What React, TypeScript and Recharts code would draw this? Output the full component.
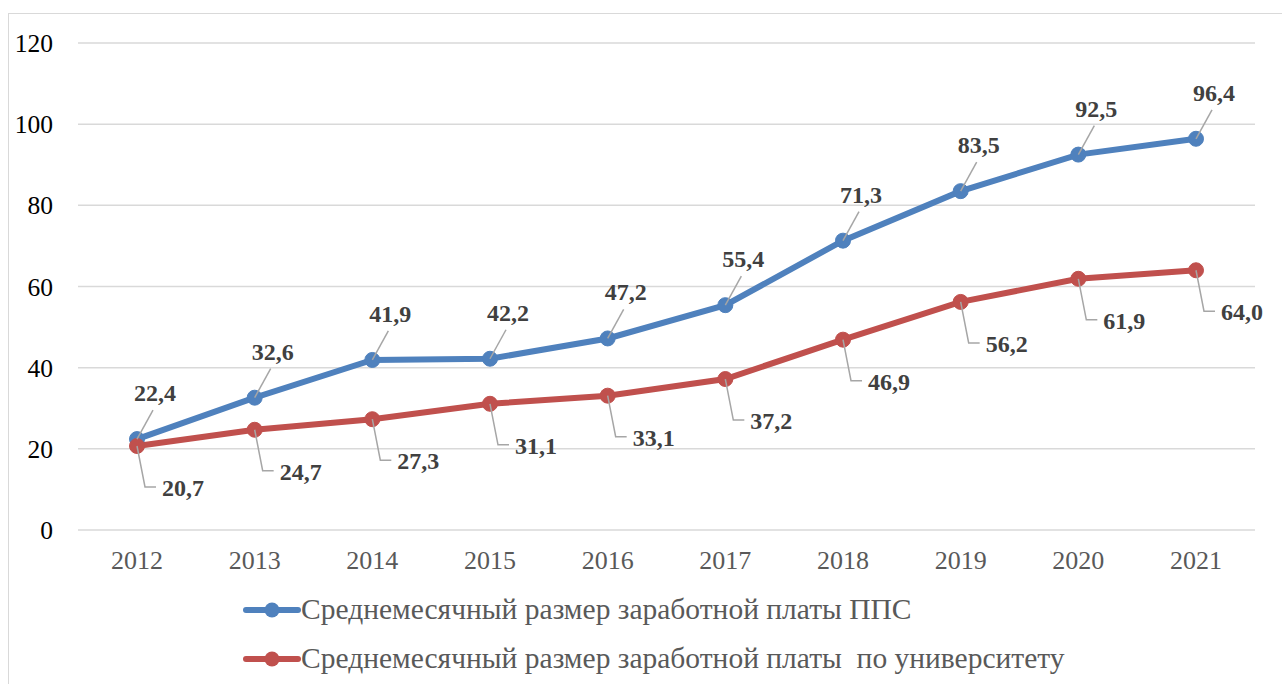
import { LineChart, Line, XAxis, YAxis, CartesianGrid, Legend, LabelList } from 'recharts';

const years = ['2012', '2013', '2014', '2015', '2016', '2017', '2018', '2019', '2020', '2021'];
const ppsSalary = [22.4, 32.6, 41.9, 42.2, 47.2, 55.4, 71.3, 83.5, 92.5, 96.4];
const univSalary = [20.7, 24.7, 27.3, 31.1, 33.1, 37.2, 46.9, 56.2, 61.9, 64.0];
const yTicks = [0, 20, 40, 60, 80, 100, 120];

const ppsName = 'Среднемесячный размер заработной платы ППС';
const univName = 'Среднемесячный размер заработной платы  по университету';

const BLUE = '#4f81bd';
const RED = '#c0504d';
const SERIF = 'Liberation Serif';

const data = years.map((year, i) => ({ year, pps: ppsSalary[i], univ: univSalary[i] }));

const fmt = (v: number) => v.toFixed(1).replace('.', ',');

// label above-right with a short leader line
const BlueLabel = (props: any) => {
  const { x, y, value } = props;
  return (
    <g>
      <line x1={x} y1={y} x2={x + 16} y2={y - 29} stroke="#a6a6a6" strokeWidth={1.5} />
      <text x={x + 18} y={y - 38} textAnchor="middle" style={{ fontFamily: SERIF, fontSize: 24, fontWeight: 'bold' }} fill="#404040">
        {fmt(value)}
      </text>
    </g>
  );
};

// label below-right, leader bends into a short horizontal tail
const RedLabel = (props: any) => {
  const { x, y, value } = props;
  return (
    <g>
      <polyline points={`${x},${y} ${x + 8},${y + 41} ${x + 19},${y + 41}`} fill="none" stroke="#a6a6a6" strokeWidth={1.5} />
      <text x={x + 25} y={y + 50} textAnchor="start" style={{ fontFamily: SERIF, fontSize: 24, fontWeight: 'bold' }} fill="#404040">
        {fmt(value)}
      </text>
    </g>
  );
};

const LegendBox = () => {
  const rows = [
    { name: ppsName, color: BLUE },
    { name: univName, color: RED },
  ];
  return (
    <div>
      {rows.map((r) => (
        <div key={r.name} style={{ display: 'flex', alignItems: 'center', height: 49 }}>
          <svg width={58} height={20} style={{ flexShrink: 0 }}>
            <line x1={3} y1={10} x2={55} y2={10} stroke={r.color} strokeWidth={6} strokeLinecap="round" />
            <circle cx={29} cy={10} r={7.5} fill={r.color} />
          </svg>
          <span style={{ fontFamily: SERIF, fontSize: 29.5, color: '#595959', whiteSpace: 'pre', lineHeight: 1 }}>{r.name}</span>
        </div>
      ))}
    </div>
  );
};

export default function App() {
  return (
    <div style={{ position: 'absolute', left: 0, top: 0, width: 1282, height: 684, overflow: 'hidden', background: '#fff', fontFamily: SERIF }}>
      <div style={{ position: 'absolute', left: 8, top: 13, width: 1320, height: 720, border: '1.5px solid #d9d9d9' }} />
      <LineChart
        width={1282}
        height={684}
        data={data}
        margin={{ top: 43, right: 27, left: 18, bottom: 104 }}
        style={{ fontFamily: SERIF }}
      >
        <CartesianGrid vertical={false} stroke="#d9d9d9" strokeWidth={1.5} />
        <XAxis
          dataKey="year"
          height={50}
          axisLine={false}
          tickLine={false}
          tickSize={0}
          tickMargin={21}
          padding={{ left: 59, right: 59 }}
          tick={{ fontFamily: SERIF, fontSize: 26, fill: '#595959' }}
        />
        <YAxis
          width={60}
          domain={[0, 120]}
          ticks={yTicks}
          axisLine={false}
          tickLine={false}
          tickSize={0}
          tickMargin={25}
          tick={{ fontFamily: SERIF, fontSize: 25.5, fill: '#000' }}
        />
        <Legend
          layout="horizontal"
          verticalAlign="middle"
          align="center"
          wrapperStyle={{ top: 585, left: 243, width: 1000, height: 98 }}
          content={() => <LegendBox />}
        />
        <Line
          dataKey="pps"
          name={ppsName}
          stroke={BLUE}
          strokeWidth={6}
          dot={{ r: 7.5, fill: BLUE, stroke: BLUE, strokeWidth: 1 }}
          isAnimationActive={false}
        >
          <LabelList dataKey="pps" content={BlueLabel} />
        </Line>
        <Line
          dataKey="univ"
          name={univName}
          stroke={RED}
          strokeWidth={6}
          dot={{ r: 7.5, fill: RED, stroke: RED, strokeWidth: 1 }}
          isAnimationActive={false}
        >
          <LabelList dataKey="univ" content={RedLabel} />
        </Line>
      </LineChart>
    </div>
  );
}
